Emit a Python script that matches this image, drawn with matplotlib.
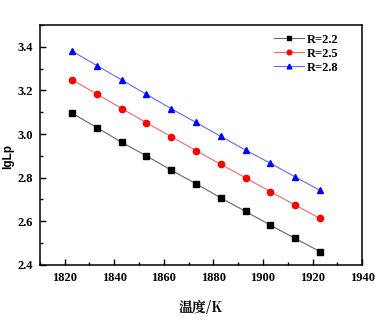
import matplotlib
matplotlib.use("Agg")
import matplotlib.pyplot as plt
from matplotlib.ticker import MultipleLocator, FormatStrFormatter

temps = [1823, 1833, 1843, 1853, 1863, 1873, 1883, 1893, 1903, 1913, 1923]
r22 = [3.095, 3.030, 2.962, 2.900, 2.834, 2.772, 2.707, 2.645, 2.582, 2.521, 2.461]
r25 = [3.249, 3.183, 3.117, 3.052, 2.988, 2.924, 2.861, 2.799, 2.736, 2.674, 2.613]
r28 = [3.380, 3.314, 3.248, 3.182, 3.116, 3.053, 2.989, 2.926, 2.866, 2.803, 2.742]
labels = ["R=2.2", "R=2.5", "R=2.8"]

fig = plt.figure(figsize=(3.8, 3.25), dpi=100)
ax = fig.add_axes([0.105, 0.185, 0.848, 0.738])

ax.plot(temps, r22, color="#666666", lw=0.8, marker="s", ms=4,
        mfc="black", mec="black", label=labels[0])
ax.plot(temps, r25, color="#ff6666", lw=0.8, marker="o", ms=4.5,
        mfc="red", mec="red", label=labels[1])
ax.plot(temps, r28, color="#6666ff", lw=0.8, marker="^", ms=4.5,
        mfc="blue", mec="blue", label=labels[2])

ax.set_xlim(1810, 1940)
ax.set_ylim(2.4, 3.5)
ax.xaxis.set_major_locator(MultipleLocator(20))
ax.xaxis.set_minor_locator(MultipleLocator(10))
ax.yaxis.set_major_locator(MultipleLocator(0.2))
ax.yaxis.set_minor_locator(MultipleLocator(0.1))
ax.yaxis.set_major_formatter(FormatStrFormatter("%.1f"))
ax.xaxis.set_major_formatter(FormatStrFormatter("%d"))
ax.tick_params(which="both", direction="in", top=False, right=False, width=1)
ax.tick_params(which="major", length=4, pad=5)
ax.tick_params(which="minor", length=2.5)
for lab in ax.get_xticklabels() + ax.get_yticklabels():
    lab.set_fontfamily("Liberation Serif")
    lab.set_fontweight("bold")
    lab.set_fontsize(9)
for s in ax.spines.values():
    s.set_linewidth(1.1)

ax.set_ylabel("lgLp", fontfamily="Liberation Sans", fontweight="bold", fontsize=8.5)
ax.yaxis.set_label_coords(-0.08, 0.45)
ax.set_xlabel("温度/K", fontfamily=["Noto Serif CJK SC", "Noto Sans CJK SC", "Liberation Serif"],
              fontweight="bold", fontsize=10, labelpad=12)

ax.legend(loc="upper right", frameon=False,
          prop={"family": "Liberation Serif", "weight": "bold", "size": 9},
          handlelength=2.4, handletextpad=0.3, labelspacing=0.15, markerscale=0.75,
          borderaxespad=0.3, bbox_to_anchor=(0.955, 1.0))

fig.savefig("out.png", dpi=100)
